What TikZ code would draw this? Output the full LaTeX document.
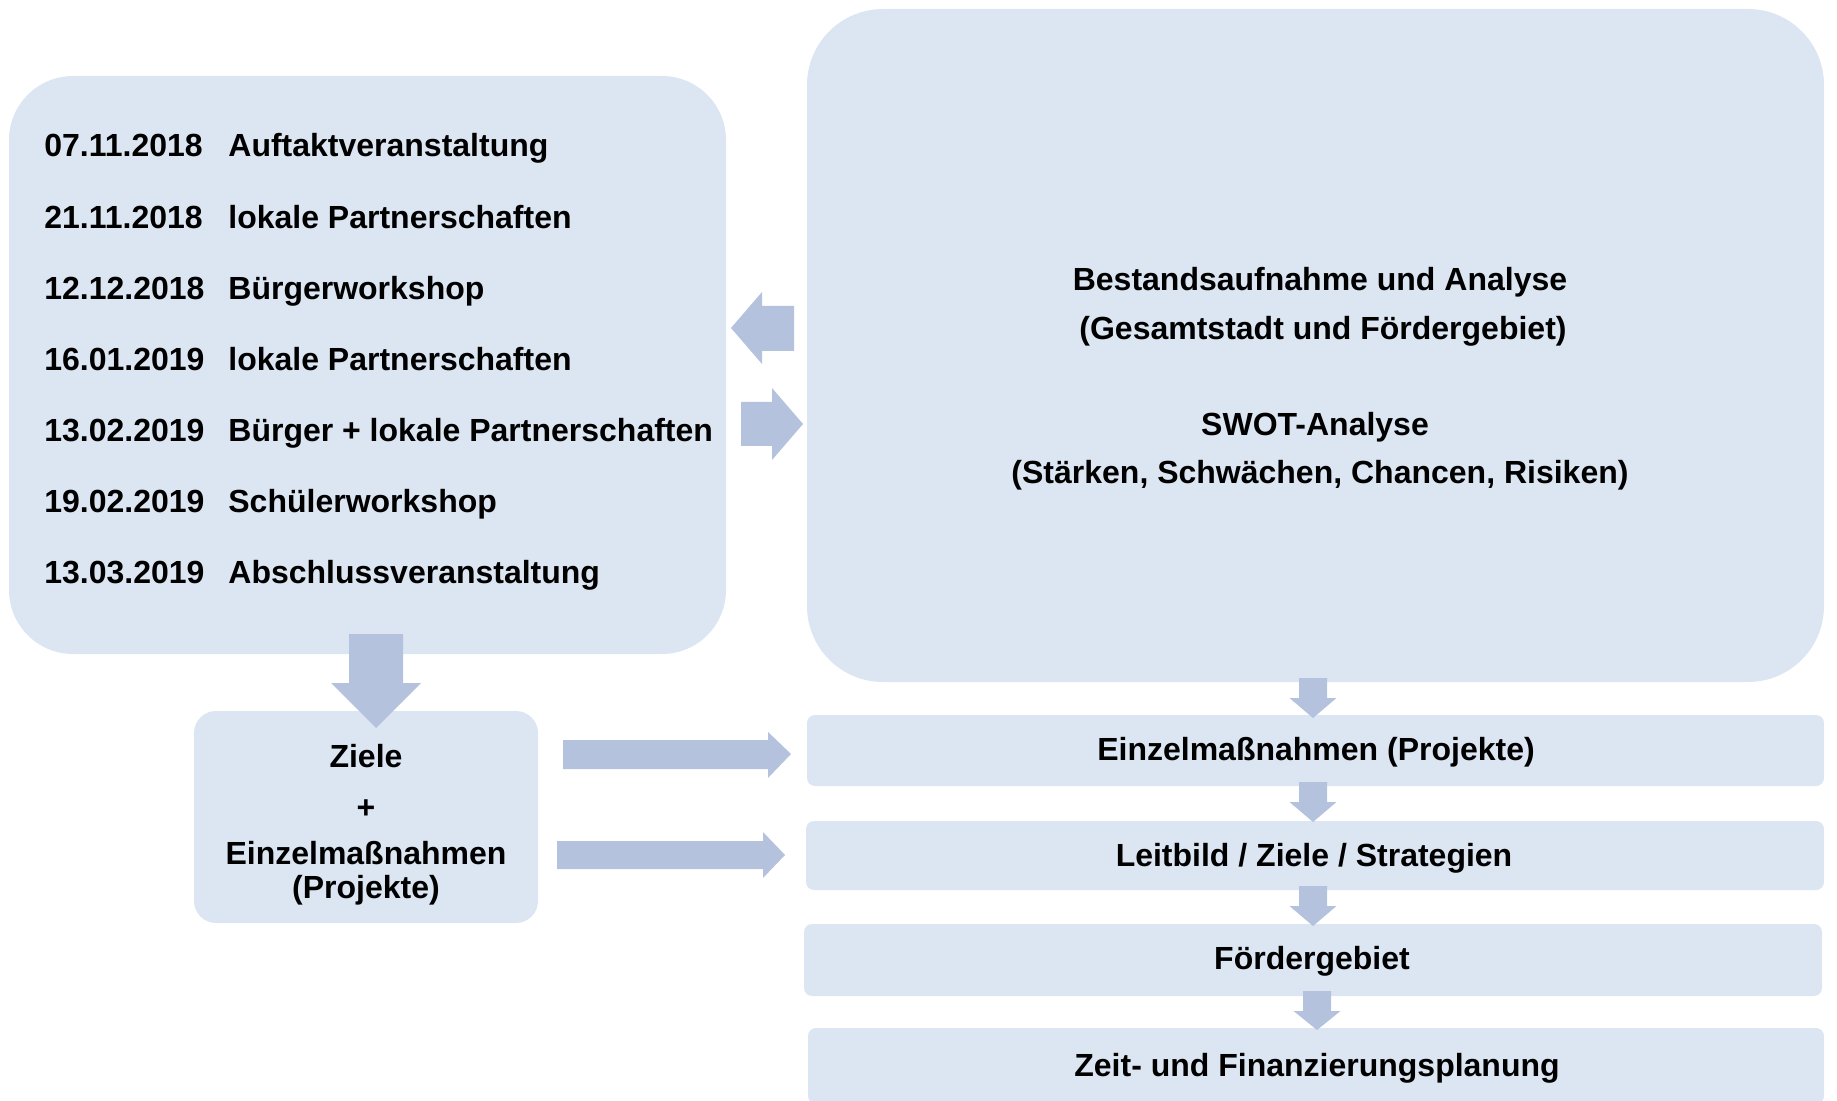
\documentclass[tikz,border=0pt]{standalone}
\usepackage{fontspec}
\setmainfont{Liberation Sans}
\definecolor{boxc}{HTML}{DCE6F2}
\definecolor{arrc}{HTML}{B4C2DD}
\begin{document}
\begin{tikzpicture}[x=0.5pt,y=-0.5pt,
  box/.style={fill=boxc, draw=none, inner sep=0pt},
  blk/.style={fill=arrc, draw=none},
  txt/.style={font=\fontsize{16pt}{19pt}\selectfont\bfseries, inner sep=0pt, text=black}]
\useasboundingbox (0,0) rectangle (1837,1101);
% boxes
\node[box, rounded corners=32pt, minimum width=358.5pt, minimum height=289pt] (L) at (367.5,365) {};
\node[box, rounded corners=38pt, minimum width=508.5pt, minimum height=336.5pt] (R) at (1315.5,345.5) {};
\node[box, rounded corners=11pt, minimum width=172pt, minimum height=106pt] (Z) at (366,817) {};
\node[box, rounded corners=4pt, minimum width=508.5pt, minimum height=35.5pt] (E) at (1315.5,750.5) {};
\node[box, rounded corners=4pt, minimum width=509pt, minimum height=34.5pt] (S) at (1315,855.5) {};
\node[box, rounded corners=4pt, minimum width=509pt, minimum height=36pt] (F) at (1313,960) {};
\node[box, rounded corners=4pt, minimum width=508pt, minimum height=38pt] (P) at (1316,1066) {};
% left list
\foreach \d/\e [count=\i from 0] in {07.11.2018/Auftaktveranstaltung,21.11.2018/lokale Partnerschaften,12.12.2018/Bürgerworkshop,16.01.2019/lokale Partnerschaften,13.02.2019/Bürger + lokale Partnerschaften,19.02.2019/Schülerworkshop,13.03.2019/Abschlussveranstaltung}{
  \node[txt, anchor=base west] (d\i) at (44,157+71.1*\i) {\d};
  \node[txt, anchor=base west] (e\i) at (228,157+71.1*\i) {\e};
}
% right big box text
\node[txt, anchor=base] (r1) at (1320,291) {Bestandsaufnahme und Analyse};
\node[txt, anchor=base] (r2) at (1323,340) {(Gesamtstadt und Fördergebiet)};
\node[txt, anchor=base] (r3) at (1315,436) {SWOT-Analyse};
\node[txt, anchor=base] (r4) at (1320,484) {(Stärken, Schwächen, Chancen, Risiken)};
% Ziele box text
\node[txt, anchor=base] (z1) at (366,767) {Ziele};
\node[txt, anchor=base] (z2) at (366,818) {+};
\node[txt, anchor=base] (z3) at (366,864) {Einzelmaßnahmen};
\node[txt, anchor=base] (z4) at (366,898) {(Projekte)};
% right column text
\node[txt, anchor=base] (t1) at (1316,760) {Einzelmaßnahmen (Projekte)};
\node[txt, anchor=base] (t2) at (1314,866) {Leitbild / Ziele / Strategien};
\node[txt, anchor=base] (t3) at (1312,969) {Fördergebiet};
\node[txt, anchor=base] (t4) at (1317,1076) {Zeit- und Finanzierungsplanung};
% block arrows
\fill[blk] (731,328) -- (762,292) -- (762,306) -- (794,306) -- (794,351) -- (762,351) -- (762,364) -- cycle;
\fill[blk] (741,402) -- (772,402) -- (772,388) -- (803,424) -- (772,460) -- (772,446) -- (741,446) -- cycle;
\fill[blk] (349,634) -- (403,634) -- (403,683) -- (421,683) -- (376,728) -- (331,683) -- (349,683) -- cycle;
\fill[blk] (563,740) -- (768,740) -- (768,732) -- (791,754) -- (768,778) -- (768,769) -- (563,769) -- cycle;
\fill[blk] (557,841) -- (763,841) -- (763,832) -- (785,855) -- (763,878) -- (763,869) -- (557,869) -- cycle;
\foreach \cx/\a/\b/\c in {1313/678/698/718, 1313/782/802/822, 1313/886/906/926, 1317/991/1011/1030}{
  \fill[blk] (\cx-14,\a) -- (\cx+14,\a) -- (\cx+14,\b) -- (\cx+23.5,\b) -- (\cx,\c) -- (\cx-23.5,\b) -- (\cx-14,\b) -- cycle;
}
\end{tikzpicture}
\end{document}
